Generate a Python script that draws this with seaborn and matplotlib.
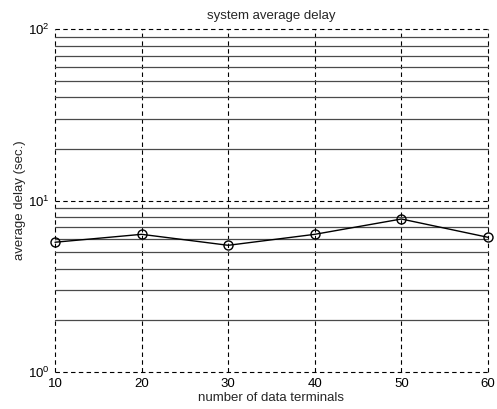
import matplotlib
matplotlib.use("Agg")
import matplotlib.pyplot as plt
import seaborn as sns
import pandas as pd
from matplotlib.ticker import LogLocator, FixedLocator

# Average system delay per number of data terminals
terminals = [10, 20, 30, 40, 50, 60]
avg_delay = [5.71, 6.35, 5.48, 6.35, 7.80, 6.10]
x_ticks = [10, 20, 30, 40, 50, 60]

sns.set_style("white")
plt.rcParams["font.family"] = ["Liberation Sans", "DejaVu Sans"]
plt.rcParams["mathtext.fontset"] = "custom"
plt.rcParams["mathtext.rm"] = "Liberation Sans"
plt.rcParams["mathtext.it"] = "Liberation Sans"

df = pd.DataFrame({"terminals": terminals, "delay": avg_delay})

fig = plt.figure(figsize=(4.97, 4.09), dpi=100)
ax = fig.add_axes([55 / 497, 1 - 372 / 409, 433 / 497, 343 / 409])

sns.lineplot(data=df, x="terminals", y="delay", ax=ax, color="black",
             linewidth=1.0, marker="o", markersize=6.5, markerfacecolor="none",
             markeredgecolor="black", markeredgewidth=1.0, zorder=5,
             clip_on=False)

ax.set_yscale("log")
ax.set_xlim(10, 60)
ax.set_ylim(1, 100)
ax.xaxis.set_major_locator(FixedLocator(x_ticks))
ax.yaxis.set_major_locator(LogLocator(base=10))
ax.yaxis.set_minor_locator(LogLocator(base=10, subs=range(2, 10)))

# MATLAB-style grid: dashed major, solid minor, box drawn by the grid itself
ax.grid(True, which="major", axis="both", color="black", linestyle=(0, (4, 3)),
        linewidth=0.8)
ax.grid(True, which="minor", axis="y", color="#4a4a4a", linestyle="-",
        linewidth=0.9)
ax.set_axisbelow(True)
for s in ax.spines.values():
    s.set_visible(False)

ax.tick_params(which="both", length=0, labelsize=9.5, pad=4, colors="black")

ax.set_title("system average delay", fontsize=9.5, pad=7)
ax.set_xlabel("number of data terminals", fontsize=9.5, labelpad=2)
ax.set_ylabel("average delay (sec.)", fontsize=9.5, labelpad=1)

# keep the edge grid lines fully visible
ticks = (ax.xaxis.get_major_ticks() + ax.yaxis.get_major_ticks()
         + ax.yaxis.get_minor_ticks())
for t in ticks:
    t.gridline.set_clip_on(False)

fig.savefig("out.png", dpi=100)
